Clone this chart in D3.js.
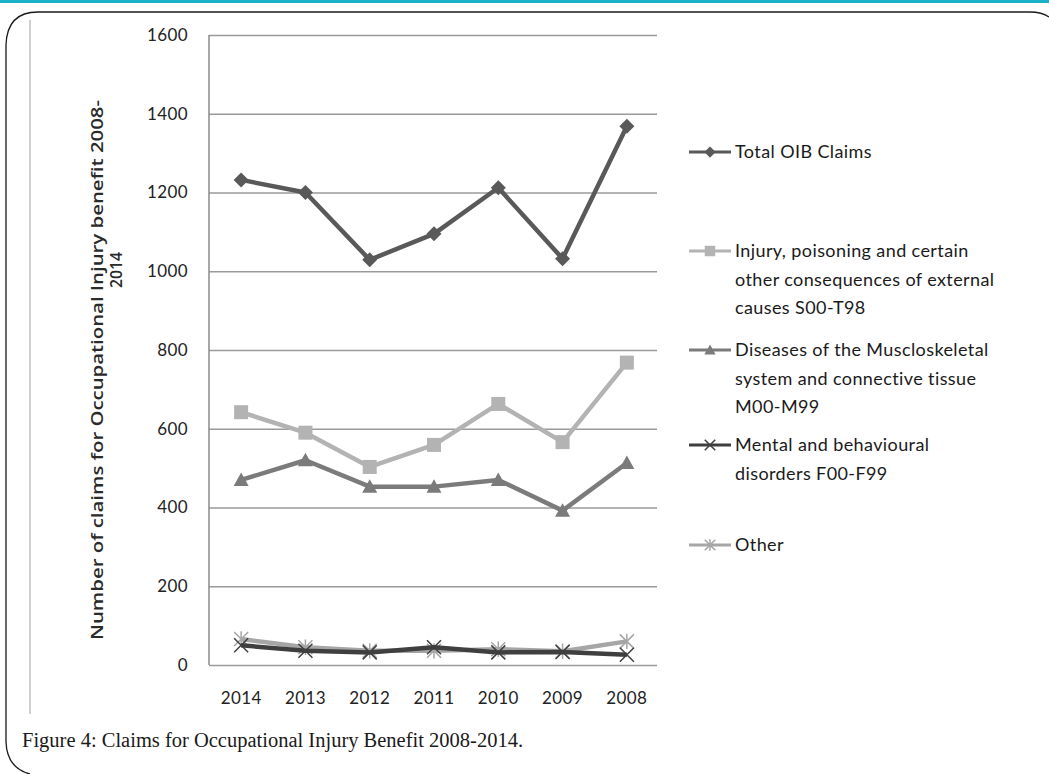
<!DOCTYPE html>
<html>
<head>
<meta charset="utf-8">
<script src="https://cdn.jsdelivr.net/npm/d3@7/dist/d3.min.js"></script>
<style>
  html, body { margin: 0; padding: 0; background: #fff; }
  svg { display: block; }
</style>
</head>
<body>
<svg id="chart" width="1049" height="774"></svg>
<script>
// Claims for Occupational Injury Benefit, by year (most recent first)
const years = ["2014", "2013", "2012", "2011", "2010", "2009", "2008"];
const totalClaims    = [1232, 1200, 1029, 1095, 1212, 1032, 1368];
const injuryClaims   = [642, 590, 503, 559, 663, 566, 768];
const diseaseClaims  = [470, 520, 453, 453, 470, 392, 513];
const mentalClaims   = [50, 36, 32, 45, 32, 33, 26];
const otherClaims    = [66, 45, 36, 36, 40, 35, 60];
const yTicks = [0, 200, 400, 600, 800, 1000, 1200, 1400, 1600];

const seriesNames = [
  ["Total OIB Claims"],
  ["Injury, poisoning and certain", "other consequences of external", "causes S00-T98"],
  ["Diseases of the Muscloskeletal", "system and connective tissue", "M00-M99"],
  ["Mental and behavioural", "disorders F00-F99"],
  ["Other"]
];
const seriesValues = [totalClaims, injuryClaims, diseaseClaims, mentalClaims, otherClaims];
const seriesColors = ["#595959", "#b3b3b3", "#7b7b7b", "#3f3f3f", "#a6a6a6"];
const seriesMarkers = ["diamond", "square", "triangle", "x", "star"];

const svg = d3.select("#chart");

// Page frame: teal band and rounded box
svg.append("rect").attr("x", 0).attr("y", 0).attr("width", 1049).attr("height", 3)
  .attr("fill", "#19b2c4");
svg.append("path")
  .attr("d", "M1049,17 Q1042,12 1030,12 L38,12 Q7,12 6,45 L6,742 Q7,768 30,774")
  .attr("fill", "none").attr("stroke", "#1a1a1a").attr("stroke-width", 1.3);
svg.append("line").attr("x1", 30).attr("x2", 30).attr("y1", 20).attr("y2", 714)
  .attr("stroke", "#a0a0a0").attr("stroke-width", 1);

const plot = { left: 209, right: 659, top: 35, bottom: 665 };

const x = d3.scaleBand().domain(years).range([plot.left, plot.right]);
const y = d3.scaleLinear().domain([0, 1600]).range([plot.bottom, plot.top]);
const cx = d => x(d) + x.bandwidth() / 2;

const tickFont = "Lato, 'Open Sans', sans-serif";

// Horizontal gridlines + y labels
const yAxis = d3.axisLeft(y).tickValues(yTicks).tickSize(-(plot.right - plot.left - 2))
  .tickPadding(21).tickFormat(d3.format("d"));
const gy = svg.append("g").attr("transform", `translate(${plot.left},0)`).call(yAxis);
gy.select(".domain").remove();
gy.selectAll(".tick line").attr("stroke", "#9a9a9a").attr("stroke-width", 1.5);
gy.selectAll(".tick text").attr("font-family", tickFont)
  .attr("font-size", 17).attr("letter-spacing", 0.4).attr("fill", "#222");

// Vertical axis line
svg.append("line").attr("x1", plot.left).attr("x2", plot.left)
  .attr("y1", plot.top).attr("y2", plot.bottom)
  .attr("stroke", "#8a8a8a").attr("stroke-width", 1.5);

// Category labels
const xAxis = d3.axisBottom(x).tickSize(0).tickPadding(27);
const gx = svg.append("g").attr("transform", `translate(0,${plot.bottom})`).call(xAxis);
gx.select(".domain").remove();
gx.selectAll(".tick text").attr("font-family", tickFont)
  .attr("font-size", 17).attr("letter-spacing", 0.4).attr("fill", "#222");

// Y axis title (two lines)
const titleFont = "'Open Sans', Lato, sans-serif";
svg.append("text")
  .attr("transform", "translate(103,370) rotate(-90)")
  .attr("text-anchor", "middle").attr("font-family", titleFont)
  .attr("font-size", 16).attr("font-weight", 600).attr("fill", "#2a2a2a")
  .attr("textLength", 540).attr("lengthAdjust", "spacingAndGlyphs")
  .text("Number of claims for Occupational  Injury benefit 2008-");
svg.append("text")
  .attr("transform", "translate(122,270) rotate(-90)")
  .attr("text-anchor", "middle").attr("font-family", titleFont)
  .attr("font-size", 16).attr("font-weight", 600).attr("fill", "#2a2a2a")
  .attr("textLength", 36).attr("lengthAdjust", "spacingAndGlyphs")
  .text("2014");

// Marker drawing
function drawMarker(g, type, px, py, color, scale = 1) {
  const s = scale;
  if (type === "diamond") {
    const r = 7.5 * s;
    g.append("path").attr("d", `M${px},${py - r} L${px + r},${py} L${px},${py + r} L${px - r},${py} Z`)
      .attr("fill", color);
  } else if (type === "square") {
    const h = 7 * s;
    g.append("rect").attr("x", px - h).attr("y", py - h).attr("width", 2 * h).attr("height", 2 * h)
      .attr("fill", color);
  } else if (type === "triangle") {
    const h = 7.5 * s;
    g.append("path").attr("d", `M${px},${py - h} L${px + h},${py + h * 0.8} L${px - h},${py + h * 0.8} Z`)
      .attr("fill", color);
  } else if (type === "x") {
    const h = 7 * s;
    g.append("path").attr("d", `M${px - h},${py - h} L${px + h},${py + h} M${px - h},${py + h} L${px + h},${py - h}`)
      .attr("stroke", color).attr("stroke-width", 1.5).attr("fill", "none");
  } else if (type === "star") {
    const h = 7 * s;
    g.append("path").attr("d",
      `M${px - h},${py - h} L${px + h},${py + h} M${px - h},${py + h} L${px + h},${py - h} M${px},${py - h * 1.1} L${px},${py + h * 1.1}`)
      .attr("stroke", color).attr("stroke-width", 1.5).attr("fill", "none");
  }
}

const line = d3.line().x(d => cx(d.year)).y(d => y(d.value));

// Draw series from back to front
const order = [4, 3, 2, 1, 0];
order.forEach(i => {
  const data = years.map((yr, k) => ({ year: yr, value: seriesValues[i][k] }));
  const g = svg.append("g");
  g.append("path").datum(data).attr("d", line)
    .attr("fill", "none").attr("stroke", seriesColors[i]).attr("stroke-width", 4.5)
    .attr("stroke-linejoin", "round");
  data.forEach(d => drawMarker(g, seriesMarkers[i], cx(d.year), y(d.value), seriesColors[i]));
});

// Legend
const legendFont = "Lato, 'Open Sans', sans-serif";
const legendY = [152, 251, 350, 445, 545];
const lg = svg.append("g");
seriesNames.forEach((lines, i) => {
  const ly = legendY[i];
  lg.append("line").attr("x1", 689).attr("x2", 731).attr("y1", ly).attr("y2", ly)
    .attr("stroke", seriesColors[i]).attr("stroke-width", 3);
  drawMarker(lg, seriesMarkers[i], 710, ly, seriesColors[i], 0.75);
  lines.forEach((t, j) => {
    lg.append("text").attr("x", 735).attr("y", ly + 6 + j * 28.5)
      .attr("font-family", legendFont).attr("font-size", 18).attr("letter-spacing", 0.4)
      .attr("fill", "#1a1a1a")
      .text(t);
  });
});

// Caption
svg.append("text").attr("x", 22).attr("y", 747)
  .attr("font-family", "'Liberation Serif', 'DejaVu Serif', serif")
  .attr("font-size", 20.5).attr("fill", "#1a1a1a")
  .text("Figure 4: Claims for Occupational Injury Benefit 2008-2014.");
</script>
</body>
</html>
